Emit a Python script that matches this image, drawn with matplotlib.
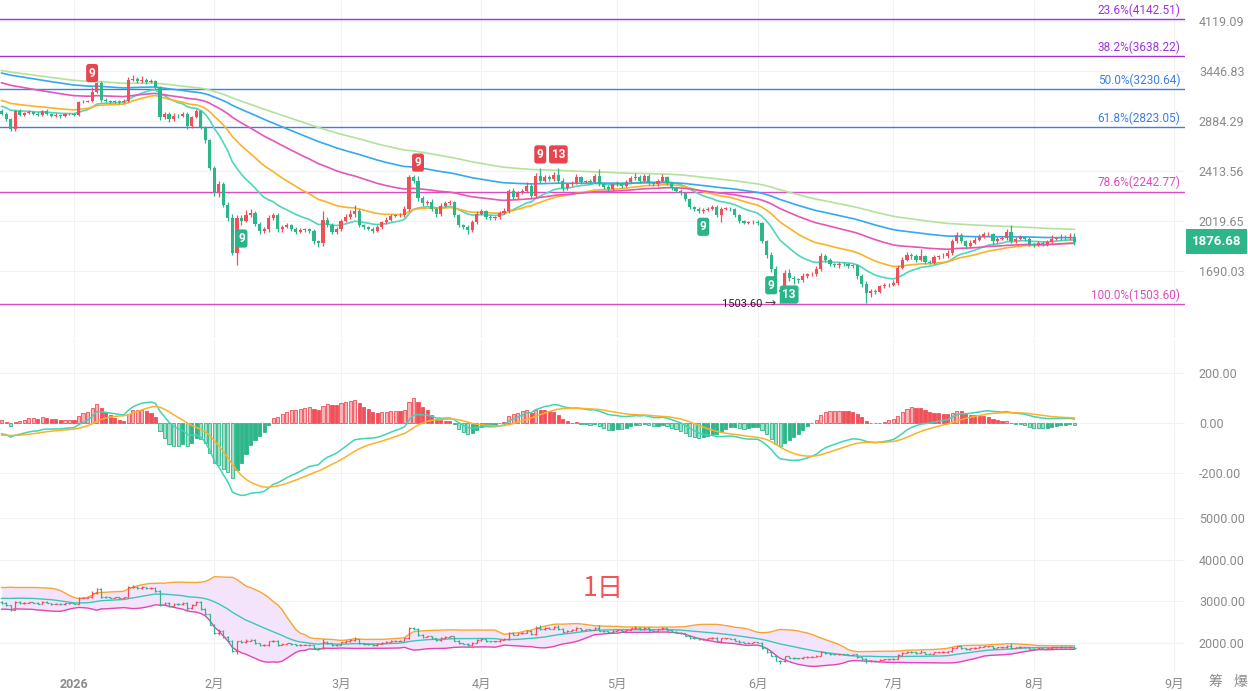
import numpy as np
import pandas as pd
import matplotlib
matplotlib.use('Agg')
import matplotlib.pyplot as plt
import matplotlib.dates as mdates
from matplotlib.ticker import NullLocator

plt.rcParams['font.family'] = ['Roboto', 'Noto Sans CJK SC', 'DejaVu Sans']

# daily candles, first one is 2025-12-16
start_date = '2025-12-16'
first_open = 2990
closes = [
    2960, 2905, 2800, 2990, 2950, 2965, 2975, 2960, 2945, 2990,
    2960, 2935, 2945, 2930, 2955, 2960, 2945, 3080, 3090, 3100,
    3200, 3300, 3110, 3100, 3085, 3095, 3080, 3100, 3340, 3350,
    3320, 3340, 3310, 3330, 3250, 2920, 2960, 2900, 2940, 2930,
    2960, 2830, 2920, 2990, 2820, 2690, 2440, 2230, 2300, 2140,
    2040, 1800, 2040, 2020, 2060, 2075, 2000, 1950, 1960, 2040,
    2060, 1960, 1980, 1990, 1965, 1945, 1955, 1960, 1950, 1880,
    1870, 2030, 1990, 1945, 1960, 2020, 2050, 2070, 2090, 1990,
    1975, 1965, 1950, 1975, 2010, 2030, 2055, 2060, 2060, 2110,
    2360, 2330, 2190, 2150, 2160, 2110, 2070, 2130, 2150, 2160,
    2060, 1990, 1975, 1955, 2010, 2070, 2090, 2050, 2040, 2045,
    2080, 2095, 2250, 2200, 2230, 2250, 2290, 2210, 2370, 2330,
    2360, 2345, 2380, 2330, 2270, 2300, 2310, 2360, 2320, 2330,
    2320, 2370, 2300, 2280, 2260, 2300, 2310, 2290, 2320, 2350,
    2360, 2330, 2370, 2310, 2300, 2330, 2360, 2310, 2270, 2250,
    2230, 2180, 2120, 2110, 2090, 2100, 2110, 2120, 2060, 2110,
    2110, 2105, 2060, 2020, 2005, 2010, 2015, 2005, 1880, 1790,
    1700, 1580, 1570, 1680, 1650, 1640, 1635, 1660, 1670, 1670,
    1700, 1780, 1760, 1730, 1725, 1735, 1730, 1720, 1725, 1660,
    1615, 1560, 1575, 1570, 1600, 1605, 1610, 1620, 1710, 1760,
    1790, 1780, 1760, 1780, 1745, 1740, 1775, 1780, 1785, 1800,
    1880, 1920, 1880, 1850, 1870, 1890, 1910, 1925, 1925, 1880,
    1895, 1900, 1940, 1880, 1895, 1905, 1895, 1860, 1855, 1870,
    1860, 1875, 1895, 1900, 1905, 1900, 1905, 1876.68,
]
hi_wick = [
    20, 15, 10, 10, 15, 10, 20, 10, 15, 10,
    15, 10, 20, 10, 15, 10, 10, 20, 15, 10,
    60, 10, 20, 15, 10, 15, 10, 15, 30, 50,
    20, 40, 15, 20, 10, 20, 20, 15, 30, 20,
    15, 20, 15, 20, 10, 10, 15, 20, 30, 20,
    20, 30, 20, 25, 40, 30, 15, 10, 15, 20,
    20, 15, 10, 15, 10, 10, 15, 10, 10, 10,
    10, 60, 20, 15, 20, 15, 20, 30, 50, 15,
    10, 10, 10, 15, 10, 20, 15, 10, 15, 20,
    20, 20, 40, 20, 15, 20, 10, 20, 20, 15,
    10, 10, 10, 15, 15, 20, 20, 10, 10, 10,
    15, 20, 15, 20, 20, 15, 30, 15, 30, 70,
    15, 20, 25, 60, 20, 10, 15, 25, 10, 10,
    15, 20, 60, 10, 15, 10, 20, 10, 15, 20,
    40, 15, 20, 20, 10, 15, 30, 10, 10, 10,
    10, 10, 10, 10, 10, 15, 10, 15, 15, 10,
    10, 10, 10, 10, 10, 10, 10, 10, 10, 10,
    15, 20, 20, 15, 20, 10, 10, 15, 10, 15,
    20, 20, 15, 10, 10, 10, 10, 10, 10, 10,
    10, 15, 10, 10, 10, 15, 10, 15, 15, 15,
    15, 10, 15, 50, 10, 10, 15, 10, 15, 20,
    15, 20, 15, 10, 15, 15, 15, 15, 15, 10,
    15, 15, 20, 50, 10, 15, 10, 10, 10, 10,
    10, 15, 25, 10, 25, 15, 30, 30,
]
lo_wick = [
    15, 20, 20, 15, 10, 15, 10, 10, 15, 10,
    10, 15, 10, 15, 10, 10, 15, 10, 10, 10,
    10, 15, 20, 15, 15, 10, 15, 10, 10, 20,
    15, 20, 15, 10, 20, 30, 15, 30, 15, 20,
    10, 30, 20, 10, 20, 20, 15, 20, 30, 20,
    20, 10, 73, 30, 10, 15, 15, 25, 15, 20,
    10, 20, 15, 10, 15, 20, 10, 10, 15, 20,
    30, 20, 15, 20, 20, 10, 10, 15, 20, 15,
    15, 10, 15, 10, 10, 10, 10, 10, 15, 10,
    15, 15, 20, 20, 15, 15, 25, 15, 10, 10,
    15, 15, 10, 30, 15, 10, 10, 15, 10, 10,
    10, 10, 15, 15, 15, 10, 15, 20, 10, 15,
    10, 15, 15, 15, 20, 15, 10, 10, 20, 10,
    15, 10, 15, 20, 15, 10, 10, 15, 10, 10,
    15, 20, 10, 15, 15, 10, 10, 15, 15, 15,
    15, 15, 15, 20, 15, 15, 10, 10, 15, 50,
    10, 10, 10, 15, 10, 10, 10, 15, 15, 20,
    15, 20, 66.4, 20, 20, 25, 15, 10, 10, 10,
    10, 10, 15, 10, 10, 15, 10, 15, 10, 15,
    20, 50, 20, 15, 10, 10, 10, 10, 15, 10,
    10, 15, 15, 10, 15, 10, 10, 10, 10, 15,
    10, 10, 15, 25, 10, 10, 10, 10, 10, 20,
    10, 10, 15, 15, 10, 10, 15, 15, 15, 10,
    10, 10, 10, 10, 15, 15, 10, 20,
]
# closes of the 19 days before the chart starts, only to warm up the bollinger bands
pre_closes = [2900, 2850, 2880, 2950, 3000, 2980, 3020, 3100, 3150, 3080,
              3120, 3200, 3250, 3300, 3280, 3200, 3150, 3060, 3000]

# moving averages: period, value just before the first candle, colour
ema_periods = [15, 30, 60, 90, 120]
ema_seeds = [3050, 3110, 3315, 3430, 3460]
ema_colors = ['#4fd6bc', '#fbb22a', '#e655b8', '#35a9ec', '#b3e29c']

# macd start values (ema12, ema26, dea)
macd_seed12 = 2985
macd_seed26 = 3030
macd_seed_dea = -50

fib_names = ['23.6%', '38.2%', '50.0%', '61.8%', '78.6%', '100.0%']
fib_prices = [4142.51, 3638.22, 3230.64, 2823.05, 2242.77, 1503.60]
fib_colors = ['#a032dc', '#a032dc', '#3a7fe6', '#3a7fe6', '#dc4cbc', '#dc4cbc']

price_ticks = [4119.09, 3446.83, 2884.29, 2413.56, 2019.65, 1690.03]
macd_ticks = [200, 0, -200]
boll_ticks = [5000, 4000, 3000, 2000]

td_sell_idx = [20, 92, 119, 123]
td_sell_txt = ['9', '9', '9', '13']
td_buy_idx = [53, 155, 170, 174]
td_buy_txt = ['9', '9', '9', '13']

last_price = 1876.68
low_idx = 172
low_price = 1503.60

RED = '#f0505a'
GREEN = '#2db68a'
RED_L = '#f8b3b7'
GREEN_L = '#a3dfc8'
GRID = '#f2f2f2'
LABEL = '#8a8a8a'


def ema_series(values, period, seed):
    alpha = 2.0 / (period + 1)
    out = []
    prev = seed
    for v in values:
        prev = prev + alpha * (v - prev)
        out.append(prev)
    return np.array(out)


closes = np.array(closes, dtype=float)
opens = np.concatenate([[first_open], closes[:-1]])
highs = np.maximum(opens, closes) + np.array(hi_wick)
lows = np.minimum(opens, closes) - np.array(lo_wick)
is_up = closes >= opens
cols = np.where(is_up, RED, GREEN)

dates = pd.date_range(start_date, periods=len(closes), freq='D')
x = mdates.date2num(dates)

months = pd.date_range('2026-01-01', '2026-09-01', freq='MS')
month_x = mdates.date2num(months)
month_lbl = ['2026' if m.month == 1 else f'{m.month}月' for m in months]
px_per_day = (1174 - 74) / (month_x[-1] - month_x[0])
x_left = month_x[0] - 74 / px_per_day
x_right = month_x[-1] + 11 / px_per_day

fig = plt.figure(figsize=(12.48, 6.91), dpi=100)
W = 1185 / 1248
ax1 = fig.add_axes([0, 1 - 338 / 691, W, 338 / 691])
ax2 = fig.add_axes([0, 1 - 505 / 691, W, 165 / 691])
ax3 = fig.add_axes([0, 1 - 672 / 691, W, 167 / 691])

for ax in (ax1, ax2, ax3):
    for s in ax.spines.values():
        s.set_visible(False)
    ax.set_xlim(x_left, x_right)
    ax.set_xticks(month_x)
    ax.yaxis.tick_right()
    ax.tick_params(axis='y', length=0, pad=10, labelcolor=LABEL, labelsize=9)
    ax.tick_params(axis='x', length=0)
    ax.grid(True, color=GRID, lw=0.8)
    ax.set_axisbelow(True)

# ---- main price panel
ax1.set_yscale('log')
ax1.set_ylim(1331, 4437)
ax1.yaxis.set_minor_locator(NullLocator())
ax1.set_yticks(price_ticks)
ax1.set_yticklabels([f'{t:.2f}' for t in price_ticks])
ax1.tick_params(axis='x', labelbottom=False)

for p, c in zip(fib_prices, fib_colors):
    ax1.axhline(p, color=c, lw=1, zorder=1)
for n, p, c in zip(fib_names, fib_prices, fib_colors):
    ax1.annotate(f'{n}({p:.2f})', xy=(0.996, p), xycoords=ax1.get_yaxis_transform(),
                 xytext=(0, 1.5), textcoords='offset points', ha='right', va='bottom',
                 color=c, fontsize=8.5)

for per, seed, c in zip(ema_periods, ema_seeds, ema_colors):
    ax1.plot(x, ema_series(closes, per, seed), color=c, lw=1.2, zorder=2)

ax1.vlines(x, lows, highs, colors=cols, lw=0.9, zorder=3)
ax1.bar(x, np.maximum(np.abs(closes - opens), 3), bottom=np.minimum(opens, closes),
        width=0.7, color=cols, lw=0, zorder=4)

for i, t in zip(td_sell_idx, td_sell_txt):
    ax1.annotate(t, xy=(x[i], highs[i]), xytext=(0, 5), textcoords='offset points',
                 ha='center', va='bottom', color='white', fontsize=8.5, fontweight='bold',
                 bbox=dict(boxstyle='round,pad=0.22', fc='#e8444e', ec='none'), zorder=6)
for i, t in zip(td_buy_idx, td_buy_txt):
    ax1.annotate(t, xy=(x[i], lows[i]), xytext=(0, -5), textcoords='offset points',
                 ha='center', va='top', color='white', fontsize=8.5, fontweight='bold',
                 bbox=dict(boxstyle='round,pad=0.22', fc='#2bb389', ec='none'), zorder=6)

ax1.annotate(f'{low_price:.2f} →', xy=(x[low_idx], low_price), xytext=(-3, 0),
             textcoords='offset points', ha='right', va='center', color='#222222', fontsize=8)

ax1.text(1.0265, last_price, f'{last_price:.2f}', transform=ax1.get_yaxis_transform(),
         ha='center', va='center', color='white', fontsize=9.5, fontweight='bold',
         bbox=dict(boxstyle='square,pad=0.45', fc='#2db68a', ec='none'), clip_on=False)

# ---- MACD panel
e12 = ema_series(closes, 12, macd_seed12)
e26 = ema_series(closes, 26, macd_seed26)
dif = e12 - e26
dea = ema_series(dif, 9, macd_seed_dea)
hist = 2 * (dif - dea)
prev_hist = np.concatenate([[2 * (macd_seed12 - macd_seed26 - macd_seed_dea)], hist[:-1]])
growing = np.abs(hist) > np.abs(prev_hist)
pos = hist >= 0
face = np.where(pos, np.where(growing, RED_L, RED), np.where(growing, GREEN_L, GREEN))
edge = np.where(pos, RED, GREEN)
ax2.bar(x, hist, width=0.7, color=face, edgecolor=edge, lw=0.6, zorder=3)
ax2.plot(x, dif, color='#40d4b4', lw=1.1, zorder=4)
ax2.plot(x, dea, color='#fbb22a', lw=1.1, zorder=4)
ax2.set_ylim(-328, 332)
ax2.set_yticks(macd_ticks)
ax2.set_yticklabels([f'{t:.2f}' for t in macd_ticks])
ax2.tick_params(axis='x', labelbottom=False)

# ---- bollinger panel
full = pd.Series(pre_closes + list(closes))
mid = full.rolling(20).mean().to_numpy()[len(pre_closes):]
sd = full.rolling(20).std(ddof=0).to_numpy()[len(pre_closes):]
upper = mid + 2 * sd
lower = mid - 2 * sd
ax3.fill_between(x, lower, upper, color='#f4e4fb', lw=0, zorder=2)
ax3.plot(x, upper, color='#f7a531', lw=1.0, zorder=3)
ax3.plot(x, mid, color='#3cc6b8', lw=1.0, zorder=3)
ax3.plot(x, lower, color='#e445b6', lw=1.0, zorder=3)
ax3.vlines(x, lows, highs, colors=cols, lw=0.9, zorder=4)
ax3.hlines(opens, x - 0.4, x, colors=cols, lw=0.9, zorder=4)
ax3.hlines(closes, x, x + 0.4, colors=cols, lw=0.9, zorder=4)
ax3.set_ylim(1304, 5312)
ax3.set_yticks(boll_ticks)
ax3.set_yticklabels([f'{t:.2f}' for t in boll_ticks])
ax3.set_xticklabels(month_lbl)
ax3.tick_params(axis='x', labelcolor=LABEL, labelsize=9, pad=4)
ax3.get_xticklabels()[0].set_fontweight('bold')
ax3.text(0.509, 0.5, '1日', transform=ax3.transAxes, ha='center', va='center',
         color='#f0555a', fontsize=19, family=['Noto Sans CJK SC', 'DejaVu Sans'])

fig.text(1215 / 1248, 9 / 691, '筹', ha='center', va='center', color=LABEL, fontsize=10)
fig.text(1240 / 1248, 9 / 691, '爆', ha='center', va='center', color=LABEL, fontsize=10)

fig.savefig('out.png', dpi=100)
